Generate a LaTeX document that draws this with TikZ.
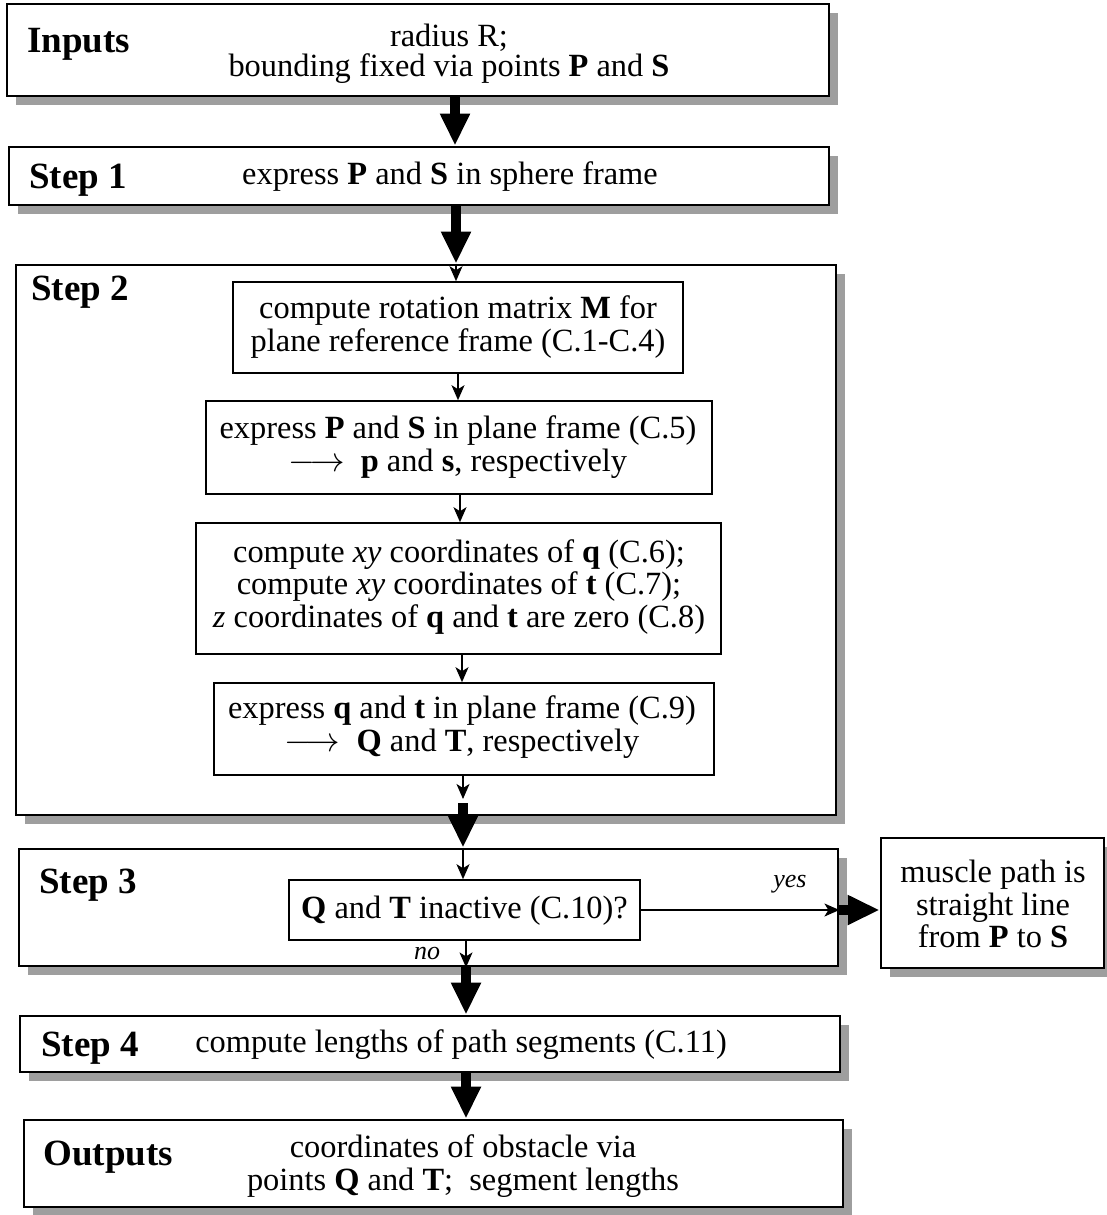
\documentclass[tikz,border=0pt]{standalone}
\usepackage{fontspec}
\setmainfont{Liberation Serif}
\usetikzlibrary{arrows.meta,shadows}
\begin{document}
\begin{tikzpicture}[x=0.5pt,y=-0.5pt,
  outer/.style={draw, line width=1.4pt, fill=white, inner sep=0pt,
    drop shadow={shadow xshift=4.5pt, shadow yshift=-4.5pt, fill=black!38, opacity=1}},
  inner/.style={draw, line width=0.8pt, fill=white, inner sep=0pt},
  head/.style={anchor=base west, font=\fontsize{18.5}{20}\selectfont\bfseries, inner sep=0pt},
  body/.style={align=center, font=\fontsize{16.2}{16.4}\selectfont, inner sep=0pt},
  lbl/.style={font=\fontsize{13}{14}\selectfont\itshape, inner sep=0pt},
  fat arrow/.style={line width=5pt, -{Triangle[width=14pt,length=16pt]}},
  slim arrow/.style={line width=0.7pt, -{Stealth[width=6.5pt,length=7.5pt,inset=2pt]}},
]
\fill[white] (0,0) rectangle (1107,1215);
\useasboundingbox (0,0) rectangle (1107,1215);

% outer stage boxes
\node[outer, minimum width=411pt, minimum height=46pt] (inputs) at (418,50) {};
\node[outer, minimum width=410pt, minimum height=29pt] (step1) at (419,176) {};
\node[outer, minimum width=410pt, minimum height=275pt] (step2) at (426,540) {};
\node[outer, minimum width=409.5pt, minimum height=58.5pt] (step3) at (428.5,907.5) {};
\node[outer, minimum width=111.5pt, minimum height=65pt] (muscle) at (992.5,903) {};
\node[outer, minimum width=410pt, minimum height=28pt] (step4) at (430,1044) {};
\node[outer, minimum width=409.5pt, minimum height=43.5pt] (outputs) at (433.5,1163.5) {};

% inner boxes of step 2 and step 3
\node[inner, minimum width=225pt, minimum height=45.5pt] (ca) at (458,327.5) {};
\node[inner, minimum width=253pt, minimum height=46.5pt] (cb) at (459,447.5) {};
\node[inner, minimum width=262.5pt, minimum height=65.5pt] (cc) at (458.5,588.5) {};
\node[inner, minimum width=250pt, minimum height=46pt] (cd) at (464,729) {};
\node[inner, minimum width=175.5pt, minimum height=30pt] (qt) at (464.5,910) {};

% headings
\node[head] (hin) at (27,52) {Inputs};
\node[head] (h1) at (29,188) {Step 1};
\node[head] (h2) at (31,300) {Step 2};
\node[head] (h3) at (39,893) {Step 3};
\node[head] (h4) at (41,1056) {Step 4};
\node[head] (hout) at (43,1165) {Outputs};

% texts
\node[body, font=\fontsize{16.2}{15}\selectfont] (tin) at (449,54)
  {radius R;\\bounding fixed via points \textbf{P} and \textbf{S}};
\node[body] (t1) at (450,177) {express \textbf{P} and \textbf{S} in sphere frame};
\node[body] (ta) at (458,327) {compute rotation matrix \textbf{M} for\\plane reference frame (C.1-C.4)};
\node[body] (tb) at (458,447) {express \textbf{P} and \textbf{S} in plane frame (C.5)\\
  $\longrightarrow$\enspace\textbf{p} and \textbf{s}, respectively};
\node[body] (tc) at (459,587) {compute \textit{xy} coordinates of \textbf{q} (C.6);\\
  compute \textit{xy} coordinates of \textbf{t} (C.7);\\
  \textit{z} coordinates of \textbf{q} and \textbf{t} are zero (C.8)};
\node[body] (td) at (462,727) {express \textbf{q} and \textbf{t} in plane frame (C.9)\\
  $\longrightarrow$\enspace\textbf{Q} and \textbf{T}, respectively};
\node[body] (tq) at (464.5,911) {\textbf{Q} and \textbf{T} inactive (C.10)?};
\node[body] (tm) at (993,904) {muscle path is\\straight line\\from \textbf{P} to \textbf{S}};
\node[body] (t4) at (461,1045) {compute lengths of path segments (C.11)};
\node[body] (tout) at (463,1166) {coordinates of obstacle via\\points \textbf{Q} and \textbf{T};\ \ segment lengths};

% connector columns
\coordinate (k1) at (455,0);
\coordinate (k2) at (456,0);
\coordinate (k3) at (458,0);
\coordinate (k4) at (460,0);
\coordinate (k5) at (462,0);
\coordinate (k6) at (463,0);
\coordinate (k7) at (466,0);
\coordinate (j1) at (463,799);
\coordinate (j2) at (463,803);

% connectors
\draw[fat arrow] (inputs.south -| k1) -- (step1.north -| k1);
\draw[fat arrow] (step1.south -| k2) -- (step2.north -| k2);
\draw[slim arrow] (step2.north -| k2) -- (ca.north -| k2);
\draw[slim arrow] (ca.south -| k3) -- (cb.north -| k3);
\draw[slim arrow] (cb.south -| k4) -- (cc.north -| k4);
\draw[slim arrow] (cc.south -| k5) -- (cd.north -| k5);
\draw[slim arrow] (cd.south -| k6) -- (j1);
\draw[fat arrow] (j2) -- (step3.north -| k6);
\draw[slim arrow] (step3.north -| k6) -- (qt.north -| k6);
\draw[slim arrow] (qt.east) -- (qt.east -| step3.east);
\draw[fat arrow] (qt.east -| step3.east) -- (qt.east -| muscle.west);
\draw[slim arrow] (qt.south -| k7) -- (step3.south -| k7);
\draw[fat arrow] (step3.south -| k7) -- (step4.north -| k7);
\draw[fat arrow] (step4.south -| k7) -- (outputs.north -| k7);

% branch labels
\node[lbl] (yes) at (790,884) {yes};
\node[lbl] (no) at (427,953) {no};
\end{tikzpicture}
\end{document}
